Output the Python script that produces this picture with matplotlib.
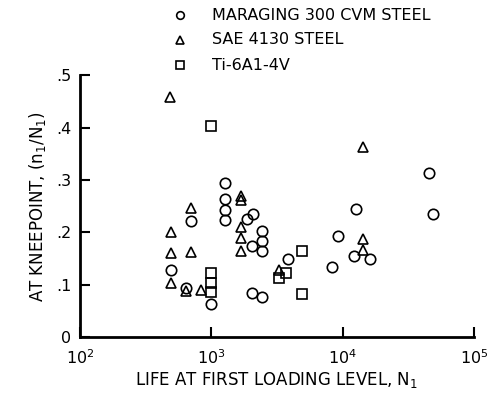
import matplotlib
matplotlib.use('Agg')
import matplotlib.pyplot as plt
from matplotlib.ticker import FixedLocator, FixedFormatter

plt.rcParams['font.family'] = ['Liberation Sans Narrow', 'DejaVu Sans']
plt.rcParams['mathtext.fontset'] = 'custom'
plt.rcParams['mathtext.rm'] = 'Liberation Sans Narrow'
plt.rcParams['mathtext.it'] = 'Liberation Sans Narrow'

# data: life N1 and kneepoint ratio n1/N1
maraging_n = [490, 700, 638, 1000, 1270, 1270, 1270, 1270, 2065, 1880, 2420,
              2420, 2420, 2030, 2050, 2420, 3820, 8260, 9270, 12600, 12200,
              16200, 45700, 49100]
maraging_r = [0.128, 0.222, 0.093, 0.064, 0.294, 0.263, 0.243, 0.223, 0.236,
              0.225, 0.203, 0.184, 0.164, 0.173, 0.085, 0.077, 0.149, 0.134,
              0.193, 0.245, 0.155, 0.149, 0.314, 0.235]

sae_n = [484, 493, 490, 495, 700, 700, 638, 834, 1700, 1700, 1675, 1675,
         1690, 3300, 14300, 14200, 14300]
sae_r = [0.459, 0.201, 0.160, 0.104, 0.246, 0.163, 0.087, 0.090, 0.270,
         0.261, 0.211, 0.189, 0.164, 0.128, 0.363, 0.187, 0.166]

ti_n = [1000, 1000, 1000, 1000, 4930, 3710, 3300, 4930]
ti_r = [0.403, 0.122, 0.104, 0.086, 0.165, 0.123, 0.112, 0.082]

labels = ['MARAGING 300 CVM STEEL', 'SAE 4130 STEEL', 'Ti-6A1-4V']
xticks = [1e2, 1e3, 1e4, 1e5]
xticklabels = ['$10^2$', '$10^3$', '$10^4$', '$10^5$']
yticks = [0, 0.1, 0.2, 0.3, 0.4, 0.5]
yticklabels = ['0', '.1', '.2', '.3', '.4', '.5']

fig = plt.figure(figsize=(4.87, 4.0), dpi=100)
ax = fig.add_axes([0.164, 0.1575, 0.809, 0.654])

mk = dict(linestyle='none', markerfacecolor='none', markeredgecolor='black',
          markeredgewidth=1.2)
ax.plot(maraging_n, maraging_r, marker='o', markersize=7.5, **mk)
ax.plot(sae_n, sae_r, marker='^', markersize=7, **mk)
ax.plot(ti_n, ti_r, marker='s', markersize=7.5, **mk)

ax.set_xscale('log')
ax.set_xlim(1e2, 1e5)
ax.set_ylim(0, 0.5)
ax.xaxis.set_major_locator(FixedLocator(xticks))
ax.xaxis.set_major_formatter(FixedFormatter(xticklabels))
ax.xaxis.set_minor_locator(FixedLocator([]))
ax.set_yticks(yticks)
ax.set_yticklabels(yticklabels)

for s in ['top', 'right']:
    ax.spines[s].set_visible(False)
for s in ['left', 'bottom']:
    ax.spines[s].set_linewidth(2)
ax.tick_params(direction='in', length=7, width=1.5, labelsize=11.5)
ax.tick_params(axis='x', pad=8)
ax.tick_params(axis='y', pad=6)

ax.set_xlabel('LIFE AT FIRST LOADING LEVEL, N$_1$', fontsize=12, labelpad=2)
ax.set_ylabel('AT KNEEPOINT, (n$_1$/N$_1$)', fontsize=12, labelpad=6)

# legend drawn above the axes
lx, ltx = 180, 212
for i, (m, lab) in enumerate(zip(['o', '^', 's'], labels)):
    ypix = 15 + 25 * i
    fig.text(ltx / 487, 1 - ypix / 400, lab, fontsize=11.5, va='center')
    fig.lines.append(plt.Line2D([lx / 487], [1 - ypix / 400], marker=m,
                                markersize=5.5, transform=fig.transFigure,
                                **mk))

fig.savefig('out.png', dpi=100)
